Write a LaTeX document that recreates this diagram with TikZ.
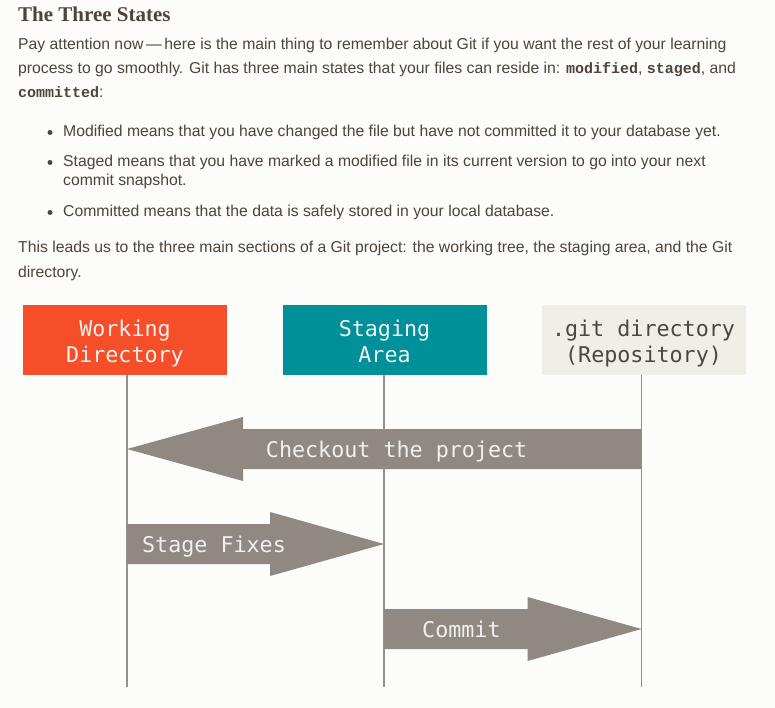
\documentclass[tikz,border=0pt]{standalone}
\usepackage{fontspec}
\setmainfont{Liberation Sans}
\newfontfamily\titlefont{Liberation Serif}
\newfontfamily\codefont{Liberation Mono}
\newfontfamily\diafont{DejaVu Sans Mono}
\usetikzlibrary{calc}
\definecolor{bgc}{RGB}{252,252,250}
\definecolor{txtc}{RGB}{78,68,60}
\definecolor{wdc}{RGB}{246,78,40}
\definecolor{sac}{RGB}{0,144,153}
\definecolor{gdc}{RGB}{239,239,232}
\definecolor{arrc}{RGB}{143,137,130}
\definecolor{linec}{RGB}{150,144,138}
\definecolor{lightc}{RGB}{240,240,240}
\definecolor{darkc}{RGB}{74,70,66}
\newcommand{\cw}[1]{{\codefont\bfseries\fontsize{15}{19}\selectfont #1}}
\tikzset{
  body/.style={anchor=base west, inner sep=0pt, text=txtc, font=\fontsize{15.75}{19}\selectfont},
  titletext/.style={anchor=base west, inner sep=0pt, text=txtc, font=\titlefont\bfseries\fontsize{21}{24}\selectfont},
  bulletdot/.style={circle, fill=txtc, inner sep=0pt, minimum size=5pt},
  statebox/.style={minimum width=204pt, minimum height=70pt, inner sep=0pt},
  boxtext/.style={anchor=base, inner sep=0pt, font=\diafont\fontsize{21.7}{26}\selectfont},
  vline/.style={draw=linec, line width=1.5pt},
  arrowbody/.style={fill=arrc},
  arrowtext/.style={anchor=base, inner sep=0pt, text=lightc, font=\diafont\fontsize{21.7}{26}\selectfont}
}
\begin{document}
\begin{tikzpicture}[x=1pt,y=-1pt]
\useasboundingbox[fill=bgc] (0,0) rectangle (775,708);
% text
\node[titletext] (title) at (18,22) {The Three States};
\node[body] (p1) at (18,50) {Pay attention now\,\textemdash\,here is the main thing to remember about Git if you want the rest of your learning};
\node[body] (p2) at (18,74) {process to go smoothly. Git has three main states that your files can reside in: \cw{modified}, \cw{staged}, and};
\node[body] (p3) at (18,98) {\cw{committed}:};
\node[bulletdot] (d1) at (50,132.5) {};
\node[body] (l1) at (63,137) {Modified means that you have changed the file but have not committed it to your database yet.};
\node[bulletdot] (d2) at (50,162.5) {};
\node[body] (l2a) at (63,167) {Staged means that you have marked a modified file in its current version to go into your next};
\node[body] (l2b) at (63,186) {commit snapshot.};
\node[bulletdot] (d3) at (50,212.5) {};
\node[body] (l3) at (63,217) {Committed means that the data is safely stored in your local database.};
\node[body] (p4) at (18,253) {This leads us to the three main sections of a Git project: the working tree, the staging area, and the Git};
\node[body] (p5) at (18,277) {directory.};
% boxes
\node[statebox, fill=wdc] (wd) at (125,340) {};
\node[boxtext, text=lightc] (wd1) at (125,336) {Working};
\node[boxtext, text=lightc] (wd2) at (125,362) {Directory};
\node[statebox, fill=sac] (sa) at (384.5,340) {};
\node[boxtext, text=lightc] (sa1) at (384.5,336) {Staging};
\node[boxtext, text=lightc] (sa2) at (384.5,362) {Area};
\node[statebox, fill=gdc] (gd) at (643.5,340) {};
\node[boxtext, text=darkc] (gd1) at (643.5,336) {.git directory};
\node[boxtext, text=darkc] (gd2) at (643.5,362) {(Repository)};
% life lines
\coordinate (wdend) at (127,687);
\coordinate (saend) at (384,687);
\coordinate (gdend) at (641.5,687);
\draw[vline] (wd.south -| wdend) -- (wdend);
\draw[vline] (sa.south -| saend) -- (saend);
\draw[vline] (gd.south -| gdend) -- (gdend);
% checkout arrow
\coordinate (cktip) at (127,449);
\coordinate (cktail) at (641.5,449);
\fill[arrowbody] (cktip) -- ($(cktip)+(116,-32)$) -- ($(cktip)+(116,-20)$) -- ($(cktail)+(0,-20)$)
  -- ($(cktail)+(0,20)$) -- ($(cktip)+(116,20)$) -- ($(cktip)+(116,32)$) -- cycle;
\node[arrowtext] (cklabel) at (396.6,457) {Checkout the project};
% stage fixes arrow
\coordinate (sftail) at (127,544);
\coordinate (sftip) at (384,544);
\fill[arrowbody] (sftail) ++(0,-20) -- ($(sftip)+(-114,-20)$) -- ($(sftip)+(-114,-32)$) -- (sftip)
  -- ($(sftip)+(-114,32)$) -- ($(sftip)+(-114,20)$) -- ($(sftail)+(0,20)$) -- cycle;
\node[arrowtext] (sflabel) at (214,552) {Stage Fixes};
% commit arrow
\coordinate (cmtail) at (384,629);
\coordinate (cmtip) at (641.5,629);
\fill[arrowbody] (cmtail) ++(0,-20) -- ($(cmtip)+(-114,-20)$) -- ($(cmtip)+(-114,-32)$) -- (cmtip)
  -- ($(cmtip)+(-114,32)$) -- ($(cmtip)+(-114,20)$) -- ($(cmtail)+(0,20)$) -- cycle;
\node[arrowtext] (cmlabel) at (461.4,637) {Commit};
\end{tikzpicture}
\end{document}
